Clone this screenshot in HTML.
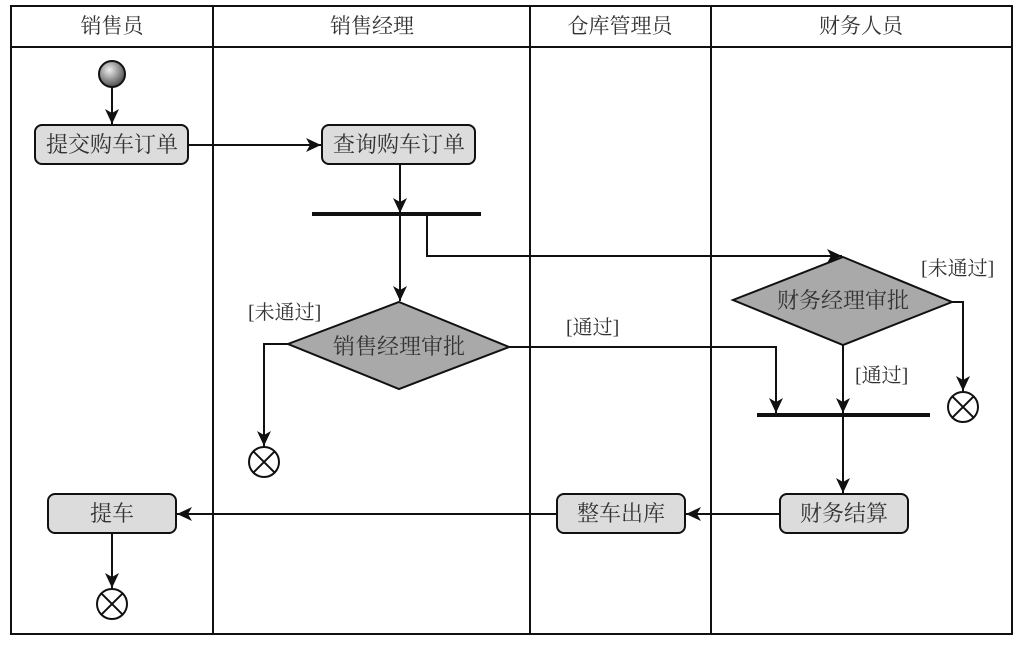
<!DOCTYPE html>
<html><head><meta charset="utf-8"><style>
html,body{margin:0;padding:0;background:#fff;}
svg{display:block;}
text{font-family:"Liberation Serif","Noto Serif CJK SC",serif;fill:#333;}
</style></head><body>
<svg width="1023" height="645" viewBox="0 0 1023 645" xmlns="http://www.w3.org/2000/svg">
<defs>
<marker id="a" markerWidth="16" markerHeight="16" refX="15" refY="7" orient="auto" markerUnits="userSpaceOnUse">
<path d="M0,0 L15,7 L0,14 L4,7 Z" fill="#111"/>
</marker>
<radialGradient id="g" cx="0.4" cy="0.35" r="0.7"><stop offset="0" stop-color="#eee"/><stop offset="1" stop-color="#444"/></radialGradient>
</defs>
<g stroke="#111" fill="none" stroke-width="2">
<rect x="11" y="6" width="1001" height="628"/>
<line x1="11" y1="47" x2="1012" y2="47"/>
<line x1="213" y1="6" x2="213" y2="634"/>
<line x1="530" y1="6" x2="530" y2="634"/>
<line x1="711" y1="6" x2="711" y2="634"/>
</g>
<g font-size="21" text-anchor="middle">
<text x="112" y="33">销售员</text>
<text x="372" y="33">销售经理</text>
<text x="620" y="33">仓库管理员</text>
<text x="861" y="33">财务人员</text>
</g>
<circle cx="112" cy="74" r="13" fill="url(#g)" stroke="#111" stroke-width="2"/>
<g stroke="#111" stroke-width="2" fill="none">
<line x1="112" y1="87" x2="112" y2="124" marker-end="url(#a)"/>
<line x1="188" y1="145" x2="321" y2="145" marker-end="url(#a)"/>
<line x1="400" y1="164" x2="400" y2="213" marker-end="url(#a)"/>
<line x1="400" y1="216" x2="400" y2="301" marker-end="url(#a)"/>
<polyline points="427,216 427,256 842,256" marker-end="url(#a)"/>
<polyline points="288,344 264,344 264,446" marker-end="url(#a)"/>
<polyline points="509,347 776,347 776,413" marker-end="url(#a)"/>
<polyline points="952,302 963,302 963,391" marker-end="url(#a)"/>
<line x1="843" y1="345" x2="843" y2="413" marker-end="url(#a)"/>
<line x1="843" y1="417" x2="843" y2="493" marker-end="url(#a)"/>
<line x1="780" y1="514" x2="686" y2="514" marker-end="url(#a)"/>
<line x1="557" y1="514" x2="177" y2="514" marker-end="url(#a)"/>
<line x1="112" y1="533" x2="112" y2="588" marker-end="url(#a)"/>
</g>
<g stroke="#111" stroke-width="4">
<line x1="312" y1="214" x2="481" y2="214"/>
<line x1="757" y1="415" x2="930" y2="415"/>
</g>
<g fill="#dcdcdc" stroke="#111" stroke-width="2">
<rect x="35" y="125" width="153" height="39" rx="7"/>
<rect x="322" y="125" width="153" height="39" rx="7"/>
<rect x="780" y="494" width="128" height="39" rx="7"/>
<rect x="557" y="494" width="128" height="39" rx="7"/>
<rect x="48" y="494" width="128" height="39" rx="7"/>
</g>
<g fill="#a9a9a9" stroke="#111" stroke-width="2">
<polygon points="399,302 509,347 399,389 288,344"/>
<polygon points="843,257 952,302 843,345 733,300"/>
</g>
<g fill="#fff" stroke="#111" stroke-width="2">
<circle cx="264" cy="462" r="15"/><path d="M253.4,451.4 L274.6,472.6 M274.6,451.4 L253.4,472.6"/>
<circle cx="963" cy="407" r="15"/><path d="M952.4,396.4 L973.6,417.6 M973.6,396.4 L952.4,417.6"/>
<circle cx="112" cy="604" r="15"/><path d="M101.4,593.4 L122.6,614.6 M122.6,593.4 L101.4,614.6"/>
</g>
<g font-size="22" text-anchor="middle">
<text x="112" y="152">提交购车订单</text>
<text x="399" y="152">查询购车订单</text>
<text x="399" y="354">销售经理审批</text>
<text x="843" y="308">财务经理审批</text>
<text x="844" y="521">财务结算</text>
<text x="621" y="521">整车出库</text>
<text x="112" y="521">提车</text>
</g>
<g font-size="20">
<text x="248" y="319">[未通过]</text>
<text x="566" y="334">[通过]</text>
<text x="921" y="275">[未通过]</text>
<text x="855" y="382">[通过]</text>
</g>
</svg>
</body></html>
